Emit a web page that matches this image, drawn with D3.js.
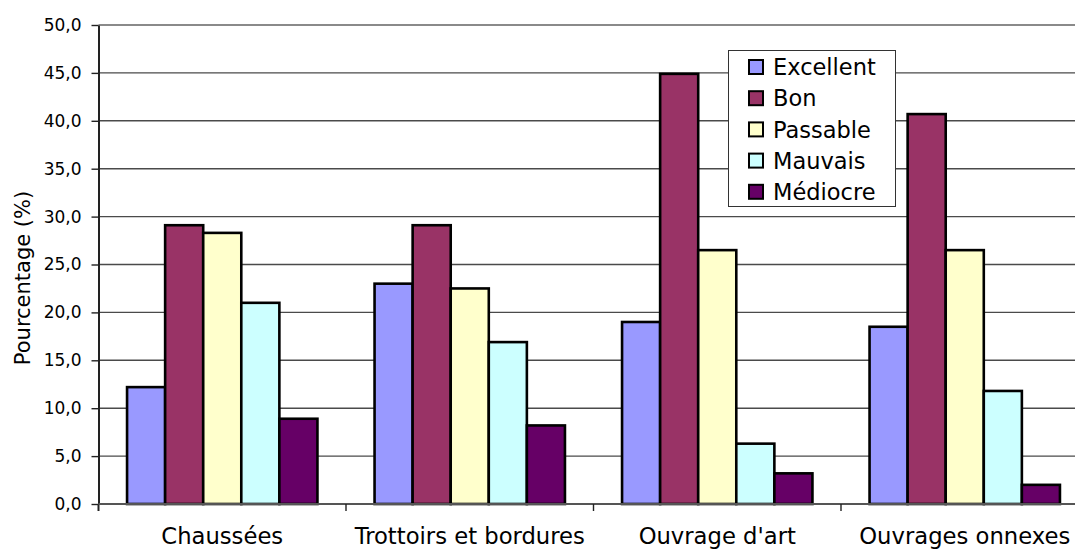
<!DOCTYPE html>
<html lang="fr">
<head>
<meta charset="utf-8">
<title>État des ouvrages</title>
<script src="https://cdn.jsdelivr.net/npm/d3@7"></script>
<style>
  html, body { margin: 0; padding: 0; background: #fff; }
  svg { display: block; overflow: hidden; font-family: "DejaVu Sans", Verdana, sans-serif; }
</style>
</head>
<body>
<svg id="chart" width="1075" height="549"></svg>
<script>
// Catégories d'ouvrages et pourcentages par état
const categories = ["Chaussées", "Trottoirs et bordures", "Ouvrage d'art", "Ouvrages onnexes"];
const seriesNames = ["Excellent", "Bon", "Passable", "Mauvais", "Médiocre"];
const excellent = [12.2, 23.0, 19.0, 18.5];
const bon       = [29.1, 29.1, 44.9, 40.7];
const passable  = [28.3, 22.5, 26.5, 26.5];
const mauvais   = [21.0, 16.9, 6.3, 11.8];
const mediocre  = [8.9, 8.2, 3.2, 2.0];
const seriesColors = ["#9999FF", "#993366", "#FFFFCC", "#CCFFFF", "#660066"];
const yTicks = [0, 5, 10, 15, 20, 25, 30, 35, 40, 45, 50];
const yTitle = "Pourcentage (%)";

const seriesValues = [excellent, bon, passable, mauvais, mediocre];
const rows = categories.map((c, i) => ({
  category: c,
  values: seriesNames.map((s, k) => ({ series: s, value: seriesValues[k][i] }))
}));

const svg = d3.select("#chart");

// Zone de tracé (le bord droit dépasse la fenêtre)
const plotLeft = 98.5, plotRight = 1088.5, plotTop = 25, plotBottom = 504;

const x0 = d3.scaleBand().domain(categories).range([plotLeft, plotRight]).paddingInner(0).paddingOuter(0);
const x1 = d3.scaleBand().domain(seriesNames).range([0, x0.bandwidth()]).paddingInner(0).paddingOuter(0.75);
const y = d3.scaleLinear().domain([0, 50]).range([plotBottom, plotTop]);
const color = d3.scaleOrdinal().domain(seriesNames).range(seriesColors);

const fr = d3.formatLocale({ decimal: ",", thousands: " ", grouping: [3], currency: ["", " €"] });
const fmt = fr.format(".1f");

// Quadrillage horizontal
svg.append("g")
  .selectAll("line")
  .data(yTicks.filter(t => t > 0))
  .join("line")
  .attr("x1", plotLeft).attr("x2", plotRight)
  .attr("y1", d => y(d)).attr("y2", d => y(d))
  .attr("stroke", d => d === 50 ? "#8a8a8a" : "#4a4a4a")
  .attr("stroke-width", d => d === 50 ? 2 : 1.4);

// Barres groupées
svg.append("g")
  .selectAll("g")
  .data(rows)
  .join("g")
  .attr("transform", d => `translate(${x0(d.category)},0)`)
  .selectAll("rect")
  .data(d => d.values)
  .join("rect")
  .attr("x", d => x1(d.series))
  .attr("y", d => y(d.value))
  .attr("width", x1.bandwidth())
  .attr("height", d => y(0) - y(d.value))
  .attr("fill", d => color(d.series))
  .attr("stroke", "#000")
  .attr("stroke-width", 2.6);

// Axe des ordonnées
const yAxis = d3.axisLeft(y).tickValues(yTicks).tickFormat(fmt).tickSize(7).tickSizeOuter(0).tickPadding(10);
const gy = svg.append("g").attr("transform", `translate(${plotLeft},0)`).call(yAxis);
gy.select(".domain").attr("stroke", "#222").attr("stroke-width", 2);
gy.selectAll(".tick line").attr("stroke", "#222").attr("stroke-width", 1.4);
gy.selectAll(".tick text")
  .attr("font-family", "'DejaVu Sans', Verdana, sans-serif")
  .attr("font-size", 17)
  .attr("fill", "#000");
// prolongement de l'axe sous la ligne de base
gy.append("line")
  .attr("x1", 0).attr("x2", 0)
  .attr("y1", plotBottom).attr("y2", plotBottom + 7)
  .attr("stroke", "#222").attr("stroke-width", 2);

// Axe des abscisses
const gx = svg.append("g");
gx.append("line")
  .attr("x1", plotLeft).attr("x2", plotRight)
  .attr("y1", plotBottom).attr("y2", plotBottom)
  .attr("stroke", "#555").attr("stroke-width", 2);
gx.selectAll("line.sep")
  .data(categories.slice(1))
  .join("line")
  .attr("class", "sep")
  .attr("x1", d => x0(d)).attr("x2", d => x0(d))
  .attr("y1", plotBottom).attr("y2", plotBottom + 7)
  .attr("stroke", "#222").attr("stroke-width", 1.4);
gx.selectAll("text")
  .data(categories)
  .join("text")
  .attr("x", d => x0(d) + x0.bandwidth() / 2)
  .attr("y", 544)
  .attr("text-anchor", "middle")
  .attr("font-size", 22.7)
  .attr("fill", "#000")
  .text(d => d);

// Titre de l'axe des ordonnées
svg.append("text")
  .attr("transform", "translate(30,278) rotate(-90)")
  .attr("text-anchor", "middle")
  .attr("font-size", 21)
  .attr("fill", "#000")
  .text(yTitle);

// Légende
const legend = svg.append("g");
legend.append("rect")
  .attr("x", 728.5).attr("y", 50.5)
  .attr("width", 167).attr("height", 156)
  .attr("fill", "#fff")
  .attr("stroke", "#333").attr("stroke-width", 1);
const items = legend.selectAll("g.item")
  .data(seriesNames)
  .join("g")
  .attr("class", "item")
  .attr("transform", (d, i) => `translate(0,${67 + i * 31.2})`);
items.append("rect")
  .attr("x", 749).attr("y", -7)
  .attr("width", 14).attr("height", 14)
  .attr("fill", d => color(d))
  .attr("stroke", "#000").attr("stroke-width", 2);
items.append("text")
  .attr("x", 773).attr("y", 0)
  .attr("dy", "0.36em")
  .attr("font-size", 22.5)
  .attr("fill", "#000")
  .text(d => d);
</script>
</body>
</html>
